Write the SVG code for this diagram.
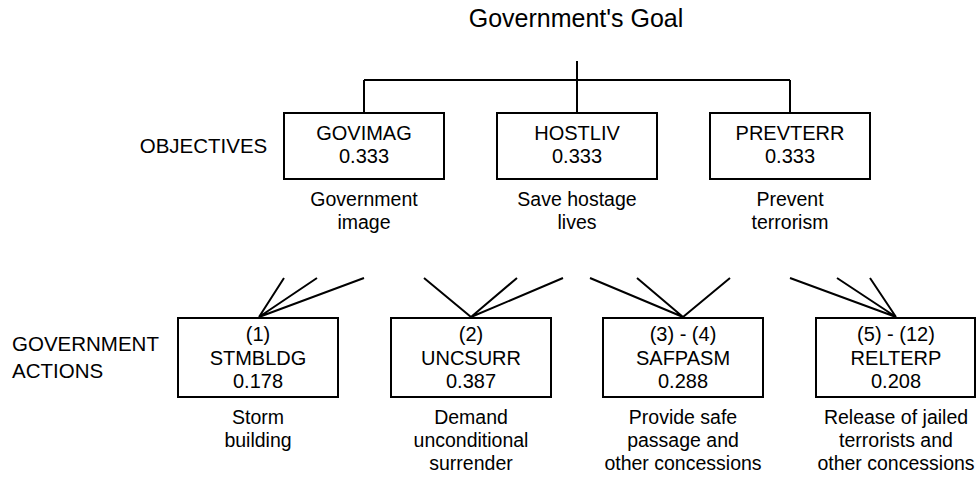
<svg xmlns="http://www.w3.org/2000/svg" width="977" height="479" viewBox="0 0 977 479">
<style>
text{font-family:"Liberation Sans",Arial,sans-serif;font-size:19.5px;fill:#000;text-anchor:middle}
.t{font-size:25px}
.h{font-size:20.5px}
.b{font-size:20px}
.l{text-anchor:start}
.box{fill:#fff;stroke:#000;stroke-width:2}
.c{fill:none;stroke:#000;stroke-width:2}
</style>
<rect width="977" height="479" fill="#fff"/>
<text class="t" x="576" y="27">Government's Goal</text>
<text class="h" x="203.5" y="153">OBJECTIVES</text>
<text class="h l" x="12" y="351">GOVERNMENT</text>
<text class="h l" x="12" y="378">ACTIONS</text>
<g id="connectors">
<path class="c" d="M577 61V80M364 80H790M364 80V113M577 80V113M790 80V113"/>
<path class="c" d="M259 317L284 278M259 317L317 278M259 317L364 278"/>
<path class="c" d="M471 317L424 278M471 317L517 278M471 317L563 278"/>
<path class="c" d="M683 317L590 278M683 317L637 278M683 317L730 278"/>
<path class="c" d="M896 317L790 278M896 317L837 278M896 317L870 278"/>
</g>
<g id="govimag">
<rect class="box" x="284" y="113" width="160" height="66"/>
<text class="b" x="364" y="140">GOVIMAG</text>
<text class="b" x="364" y="163">0.333</text>
<text x="364" y="206">Government</text>
<text x="364" y="229">image</text>
</g>
<g id="hostliv">
<rect class="box" x="497" y="113" width="160" height="66"/>
<text class="b" x="577" y="140">HOSTLIV</text>
<text class="b" x="577" y="163">0.333</text>
<text x="577" y="206">Save hostage</text>
<text x="577" y="229">lives</text>
</g>
<g id="prevterr">
<rect class="box" x="710" y="113" width="160" height="66"/>
<text class="b" x="790" y="140">PREVTERR</text>
<text class="b" x="790" y="163">0.333</text>
<text x="790" y="206">Prevent</text>
<text x="790" y="229">terrorism</text>
</g>
<g id="stmbldg">
<rect class="box" x="178" y="318" width="160" height="79"/>
<text class="b" x="258" y="341">(1)</text>
<text class="b" x="258" y="365">STMBLDG</text>
<text class="b" x="258" y="388">0.178</text>
<text x="258" y="424">Storm</text>
<text x="258" y="447">building</text>
</g>
<g id="uncsurr">
<rect class="box" x="391" y="318" width="160" height="79"/>
<text class="b" x="471" y="341">(2)</text>
<text class="b" x="471" y="365">UNCSURR</text>
<text class="b" x="471" y="388">0.387</text>
<text x="471" y="424">Demand</text>
<text x="471" y="447">unconditional</text>
<text x="471" y="470">surrender</text>
</g>
<g id="safpasm">
<rect class="box" x="603" y="318" width="160" height="79"/>
<text class="b" x="683" y="341">(3) - (4)</text>
<text class="b" x="683" y="365">SAFPASM</text>
<text class="b" x="683" y="388">0.288</text>
<text x="683" y="424">Provide safe</text>
<text x="683" y="447">passage and</text>
<text x="683" y="470">other concessions</text>
</g>
<g id="relterp">
<rect class="box" x="816" y="318" width="159" height="79"/>
<text class="b" x="896" y="341">(5) - (12)</text>
<text class="b" x="896" y="365">RELTERP</text>
<text class="b" x="896" y="388">0.208</text>
<text x="896" y="424">Release of jailed</text>
<text x="896" y="447">terrorists and</text>
<text x="896" y="470">other concessions</text>
</g>
</svg>
